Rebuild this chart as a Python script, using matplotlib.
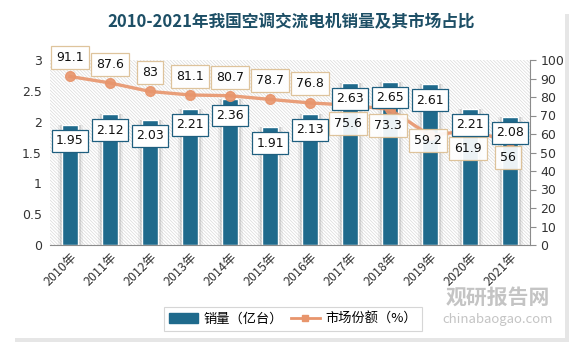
import matplotlib
matplotlib.use("Agg")
import matplotlib.pyplot as plt
import numpy as np
from matplotlib.patches import Rectangle, Patch
from matplotlib.lines import Line2D

plt.rcParams["font.family"] = ["Noto Sans CJK SC", "DejaVu Sans"]
plt.rcParams["hatch.linewidth"] = 0.5

years = ["2010年", "2011年", "2012年", "2013年", "2014年", "2015年",
         "2016年", "2017年", "2018年", "2019年", "2020年", "2021年"]
sales = [1.95, 2.12, 2.03, 2.21, 2.36, 1.91, 2.13, 2.63, 2.65, 2.61, 2.21, 2.08]
share = [91.1, 87.6, 83, 81.1, 80.7, 78.7, 76.8, 75.6, 73.3, 59.2, 61.9, 56]
# label offset for share labels (above / below point)
share_off = [10.5, 10, 10, 10, 10, 10, 10.5, -10, -8.5, -2.5, -10, -8.5]

BAR = "#1f6a8c"
LINE = "#e8956c"
NUM = "DejaVu Sans"

fig = plt.figure(figsize=(5.83, 3.52), dpi=100)
fig.patch.set_facecolor("white")
# panel with soft shadow
fig.patches.append(Rectangle((15 / 583, 1 - 342 / 352), 554 / 583, 328 / 352,
                             transform=fig.transFigure, facecolor="#e6e6e6",
                             edgecolor="none", zorder=-2))
fig.patches.append(Rectangle((13 / 583, 1 - 338 / 352), 552 / 583, 326 / 352,
                             transform=fig.transFigure, facecolor="white",
                             edgecolor="none", zorder=-1))

ax = fig.add_axes([50 / 583, 1 - 245 / 352, 480 / 583, 185 / 352])
ax.set_facecolor("none")
x = np.arange(len(years))
ax.set_xlim(-0.5, len(years) - 0.5)
ax.set_ylim(0, 3)
ax.add_patch(Rectangle((0, 0), 1, 1, transform=ax.transAxes, facecolor="white",
                       edgecolor="#dadada", hatch="\\" * 10, linewidth=0, zorder=0))

# soft shadow around the bars
ax.bar(x + 0.02, sales, width=0.62, color="#b0b0b0", alpha=0.18, zorder=1)
ax.bar(x + 0.02, sales, width=0.52, color="#9a9a9a", alpha=0.3, zorder=1)
ax.bar(x, sales, width=0.42, color=BAR, edgecolor="white", linewidth=1.0, zorder=2)

ax.set_yticks([0, 0.5, 1, 1.5, 2, 2.5, 3])
ax.set_yticklabels(["0", "0.5", "1", "1.5", "2", "2.5", "3"], family=NUM)
ax.set_xticks(x)
ax.set_xticklabels(years, rotation=45, ha="right", rotation_mode="anchor")
ax.tick_params(axis="y", length=0, labelsize=9, colors="#333333", pad=6)
ax.tick_params(axis="x", length=0, labelsize=9, colors="#333333", pad=4)
for s in ["top", "right", "left"]:
    ax.spines[s].set_visible(False)
ax.spines["bottom"].set_color("#8c8c8c")

ax2 = ax.twinx()
ax2.set_ylim(0, 100)
ax2.set_yticks(range(0, 101, 10))
ax2.set_yticklabels([str(v) for v in range(0, 101, 10)], family=NUM)
ax2.tick_params(axis="y", labelsize=9, colors="#333333", length=4, color="#8c8c8c")
for s in ["top", "left", "bottom"]:
    ax2.spines[s].set_visible(False)
ax2.spines["right"].set_color("#8c8c8c")
ax2.plot(x, share, color=LINE, linewidth=2.4, marker="o", markersize=7,
         alpha=0.9, zorder=3)
for xi, v, off in zip(x, share, share_off):
    ax2.text(xi - (0.05 if off < 0 else 0), v + off, f"{v:g}", ha="center",
             va="center", fontsize=9, color="#111111", zorder=5, family=NUM,
             bbox=dict(boxstyle="square,pad=0.4", facecolor="white", alpha=0.92,
                       edgecolor="#dcbf94", linewidth=0.9))
# bar value labels drawn on top of the share labels
for xi, v in zip(x, sales):
    ax2.text(xi, v - 0.26, f"{v:g}", ha="center", va="center", fontsize=9,
             color="#111111", zorder=6, transform=ax.transData, family=NUM,
             bbox=dict(boxstyle="square,pad=0.35", facecolor="white",
                       edgecolor="#1f5f7f", linewidth=0.9))

fig.text(0.5, 1 - 22 / 352, "2010-2021年我国空调交流电机销量及其市场占比",
         ha="center", va="center", fontsize=12, fontweight="bold", color="#1d4f66")

handles = [Patch(facecolor=BAR, edgecolor=BAR),
           Line2D([], [], color=LINE, marker="s", markersize=5, linewidth=2)]
leg = fig.legend(handles, ["销量（亿台）", "市场份额（%）"], loc="center",
                 bbox_to_anchor=(293 / 583, 1 - 319 / 352), ncol=2, fontsize=9.5,
                 frameon=True, fancybox=False, handlelength=2.2, columnspacing=0.6,
                 handletextpad=0.4, borderpad=0.4)
leg.get_frame().set_edgecolor("#cccccc")
leg.get_frame().set_linewidth(0.8)

fig.text(498 / 583, 1 - 297 / 352, "观研报告网", ha="center", va="center",
         fontsize=15, fontweight="bold", color="#c4c4c4")
fig.text(498 / 583, 1 - 320 / 352, "chinabaogao.com", ha="center", va="center",
         fontsize=9.5, color="#c4c4c4")

fig.savefig("out.png", dpi=100)
